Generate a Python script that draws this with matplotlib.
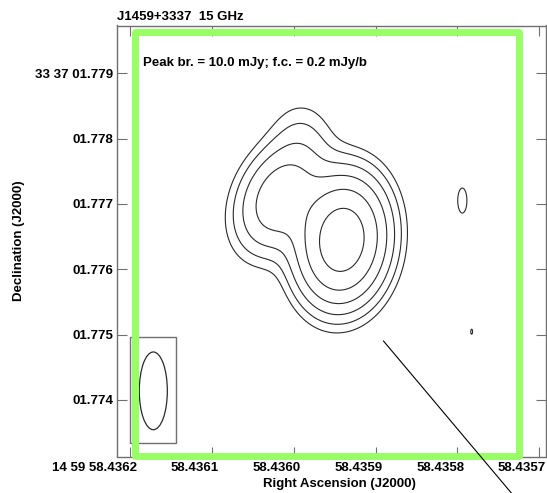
import numpy as np
import matplotlib
matplotlib.use("Agg")
import matplotlib.pyplot as plt
from matplotlib.patches import Rectangle, Ellipse
from matplotlib.transforms import ScaledTranslation

plt.rcParams['font.family'] = ['Liberation Sans', 'DejaVu Sans']
plt.rcParams['font.weight'] = 'bold'
FS = 9.5

# ---------------- data ----------------
title_text = "J1459+3337  15 GHz"
info_text = "Peak br. = 10.0 mJy; f.c. = 0.2 mJy/b"
xlabel_text = "Right Ascension (J2000)"
ylabel_text = "Declination (J2000)"

ra_ticks = [58.4362, 58.4361, 58.4360, 58.4359, 58.4358, 58.4357]
ra_labels = ["14 59 58.4362", "58.4361", "58.4360", "58.4359", "58.4358", "58.4357"]
dec_ticks = [1.774, 1.775, 1.776, 1.777, 1.778, 1.779]
dec_labels = ["01.774", "01.775", "01.776", "01.777", "01.778", "33 37 01.779"]
ra_range = (58.4362155, 58.4356914)   # seconds of RA (14h59m)
dec_range = (1.773135, 1.779732)      # arcsec (+33d37')
dec_deg = 33 + 37 / 60 + 1.776 / 3600

peak_brightness = 10.0   # mJy/beam
first_contour = 0.2      # mJy/beam
n_levels = 6

# Gaussian brightness components (position, peak mJy/b, sigma major/minor mas, PA deg)
comp_ra = [58.4359410, 58.4360168, 58.4359910, 58.4357940, 58.4357826]
comp_dec = [1.776449, 1.777092, 1.778056, 1.777053, 1.775045]
comp_peak = [10.0, 2.6, 0.30, 0.218, 0.2006]
comp_smaj = [0.51, 0.49, 0.38, 0.459, 0.50]
comp_smin = [0.355, 0.336, 0.31, 0.168, 0.18]
comp_pa = [-6.0, -25.0, 0.0, 0.0, 0.0]

# restoring beam (FWHM, mas) and its centre
beam_maj = 1.19
beam_min = 0.428
beam_pa = 0.0
beam_ra = 58.4361715
beam_dec = 1.774140

# ---------------- figure ----------------
fig = plt.figure(figsize=(5.47, 4.93), dpi=100)
ax = fig.add_axes([117.3 / 547, 1 - 456.5 / 493, (546.3 - 117.3) / 547, (456.5 - 25.5) / 493])

cosd = np.cos(np.deg2rad(dec_deg))
ra = np.linspace(ra_range[1], ra_range[0], 900)
dec = np.linspace(dec_range[0], dec_range[1], 900)
RA, DEC = np.meshgrid(ra, dec)
field = np.zeros_like(RA)
for r0, d0, p, smaj, smin, pa in zip(comp_ra, comp_dec, comp_peak, comp_smaj, comp_smin, comp_pa):
    e = (RA - r0) * 15000 * cosd
    n = (DEC - d0) * 1000
    t = np.deg2rad(pa)
    u = e * np.sin(t) + n * np.cos(t)
    v = e * np.cos(t) - n * np.sin(t)
    field += p * np.exp(-0.5 * ((u / smaj) ** 2 + (v / smin) ** 2))

levels = first_contour * 2.0 ** np.arange(n_levels)
ax.contour(RA, DEC, field, levels=levels, colors='#2a2a2a', linewidths=0.8)

ax.set_xlim(*ra_range)
ax.set_ylim(*dec_range)

frame_col = '#707070'
for s in ax.spines.values():
    s.set_color(frame_col)
    s.set_linewidth(1.0)

ax.set_xticks(ra_ticks)
ax.set_xticklabels(ra_labels, fontsize=FS, fontweight='bold')
ax.set_yticks(dec_ticks)
ax.set_yticklabels(dec_labels, fontsize=FS, fontweight='bold')
ax.tick_params(direction='in', length=7.5, width=0.8, color=frame_col,
               top=True, right=True)
ax.tick_params(axis='y', pad=2.9)
ax.tick_params(axis='x', pad=4.0)
off = ScaledTranslation(7 / 100, 0, fig.dpi_scale_trans)
for lbl in ax.get_xticklabels():
    lbl.set_ha('right')
    lbl.set_transform(lbl.get_transform() + off)

ax.set_title(title_text, loc='left', fontsize=FS, fontweight='bold', pad=3.6)
ax.set_xlabel(xlabel_text, fontsize=FS, fontweight='bold')
ax.set_ylabel(ylabel_text, fontsize=FS, fontweight='bold')
ax.xaxis.label.set_va('center')
ax.yaxis.label.set_va('center')
ax.xaxis.set_label_coords((339 - 117.3) / 429, (456.5 - 483.5) / 431)
ax.yaxis.set_label_coords((19 - 117.3) / 429, 0.5)

ax.text(0.0594, 0.9137, info_text, transform=ax.transAxes, fontsize=FS,
        fontweight='bold', ha='left', va='center')

# beam box and beam
ax.add_patch(Rectangle((0.0296, 0.032), 0.1072, 0.246, transform=ax.transAxes,
                       fill=False, ec=frame_col, lw=1.0))
ax.add_patch(Ellipse((beam_ra, beam_dec), beam_min / (15000 * cosd), beam_maj / 1000,
                     angle=beam_pa, fill=False, ec='#2a2a2a', lw=0.9))

# green highlight frame
ax.add_patch(Rectangle((0.0413, 0.0012), 0.9354 - 0.0413, 0.9838 - 0.0012,
                       transform=ax.transAxes, fill=False, ec='#99ff66', lw=5.0,
                       joinstyle='round', clip_on=False, zorder=5))

# pointer line
ax.plot([58.4358903, 58.4357269], [1.774903, 1.772469], color='black', lw=0.8,
        clip_on=False, zorder=6)

fig.savefig("out.png", dpi=100)
